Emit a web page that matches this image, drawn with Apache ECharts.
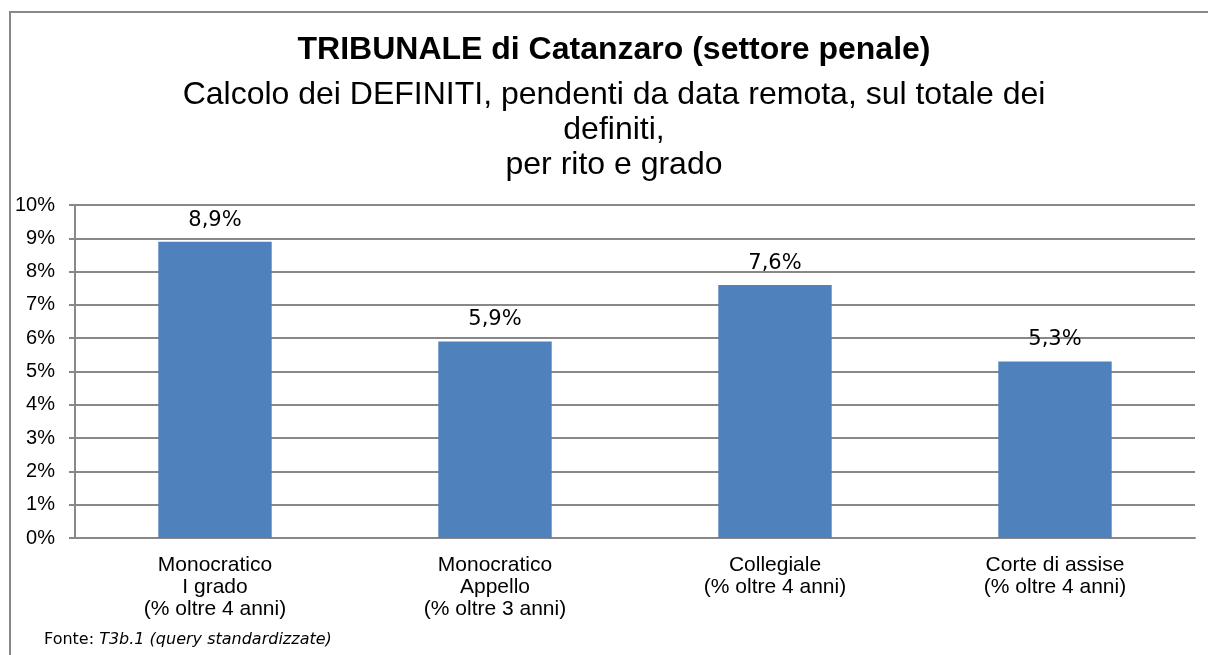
<!DOCTYPE html>
<html lang="it">
<head>
    <meta charset="UTF-8">
    <script src="https://cdn.jsdelivr.net/npm/echarts@6/dist/echarts.min.js"></script>
    <style>
        html, body { margin: 0; padding: 0; background: #fff; }
        #chart { width: 1208px; height: 655px; }
    </style>
    <title>Tribunale di Catanzaro</title>
</head>
<body>
    <div id="chart"></div>
    <script type="text/javascript">
        // dati
        var categorie = [
            'Monocratico\nI grado\n(% oltre 4 anni)',
            'Monocratico\nAppello\n(% oltre 3 anni)',
            'Collegiale\n(% oltre 4 anni)',
            'Corte di assise\n(% oltre 4 anni)'
        ];
        var valori = [8.9, 5.9, 7.6, 5.3];

        var chart = echarts.init(document.getElementById('chart'));
        // titoli come testo grafico: sono centrati sul riquadro, non sulla pagina
        var option = {
            animation: false,
            graphic: [{
                type: 'rect',
                shape: { x: 10, y: 12, width: 1220, height: 700 },
                style: { fill: 'none', stroke: '#888', lineWidth: 2 },
                silent: true
            }, {
                type: 'text',
                x: 614,
                y: 34,
                style: {
                    text: 'TRIBUNALE di Catanzaro (settore penale)',
                    align: 'center', verticalAlign: 'top',
                    fontFamily: 'Liberation Sans', fontSize: 32, fontWeight: 'bold', fill: '#000'
                }
            }, {
                type: 'text',
                x: 614,
                y: 78,
                style: {
                    text: 'Calcolo dei DEFINITI, pendenti da data remota, sul totale dei\ndefiniti,\nper rito e grado',
                    align: 'center', verticalAlign: 'top', lineHeight: 35,
                    fontFamily: 'Liberation Sans', fontSize: 32, fill: '#000'
                }
            }, {
                type: 'text',
                left: 44,
                top: 632,
                style: {
                    text: '{n|Fonte: }{i|T3b.1 (query standardizzate)}',
                    rich: {
                        n: { fontFamily: 'DejaVu Sans', fontSize: 16, fill: '#000' },
                        i: { fontFamily: 'DejaVu Sans', fontSize: 16, fontStyle: 'italic', fill: '#000' }
                    }
                }
            }],
            grid: { left: 75, right: 13, top: 205, bottom: 117, containLabel: false },
            xAxis: {
                type: 'category',
                data: categorie,
                axisLine: { lineStyle: { color: '#888', width: 2 } },
                axisTick: { length: 6, lineStyle: { color: '#888', width: 2 } },
                axisLabel: {
                    interval: 0, margin: 16,
                    fontFamily: 'Liberation Sans', fontSize: 21, lineHeight: 22, color: '#000'
                }
            },
            yAxis: {
                type: 'value',
                min: 0, max: 10, interval: 1,
                axisLine: { show: true, lineStyle: { color: '#888', width: 2 } },
                axisTick: { show: true, length: 6, lineStyle: { color: '#888', width: 2 } },
                splitLine: { lineStyle: { color: '#888', width: 2 } },
                axisLabel: {
                    margin: 20,
                    formatter: '{value}%',
                    fontFamily: 'Liberation Sans', fontSize: 20, color: '#000'
                }
            },
            series: [{
                type: 'bar',
                data: valori,
                barWidth: '40.5%',
                itemStyle: { color: '#4F81BD' },
                label: {
                    show: true,
                    position: 'top',
                    distance: 11,
                    fontFamily: 'DejaVu Sans', fontSize: 21, color: '#000',
                    formatter: function (p) { return p.value.toFixed(1).replace('.', ',') + '%'; }
                }
            }]
        };
        chart.setOption(option);
    </script>
</body>
</html>
